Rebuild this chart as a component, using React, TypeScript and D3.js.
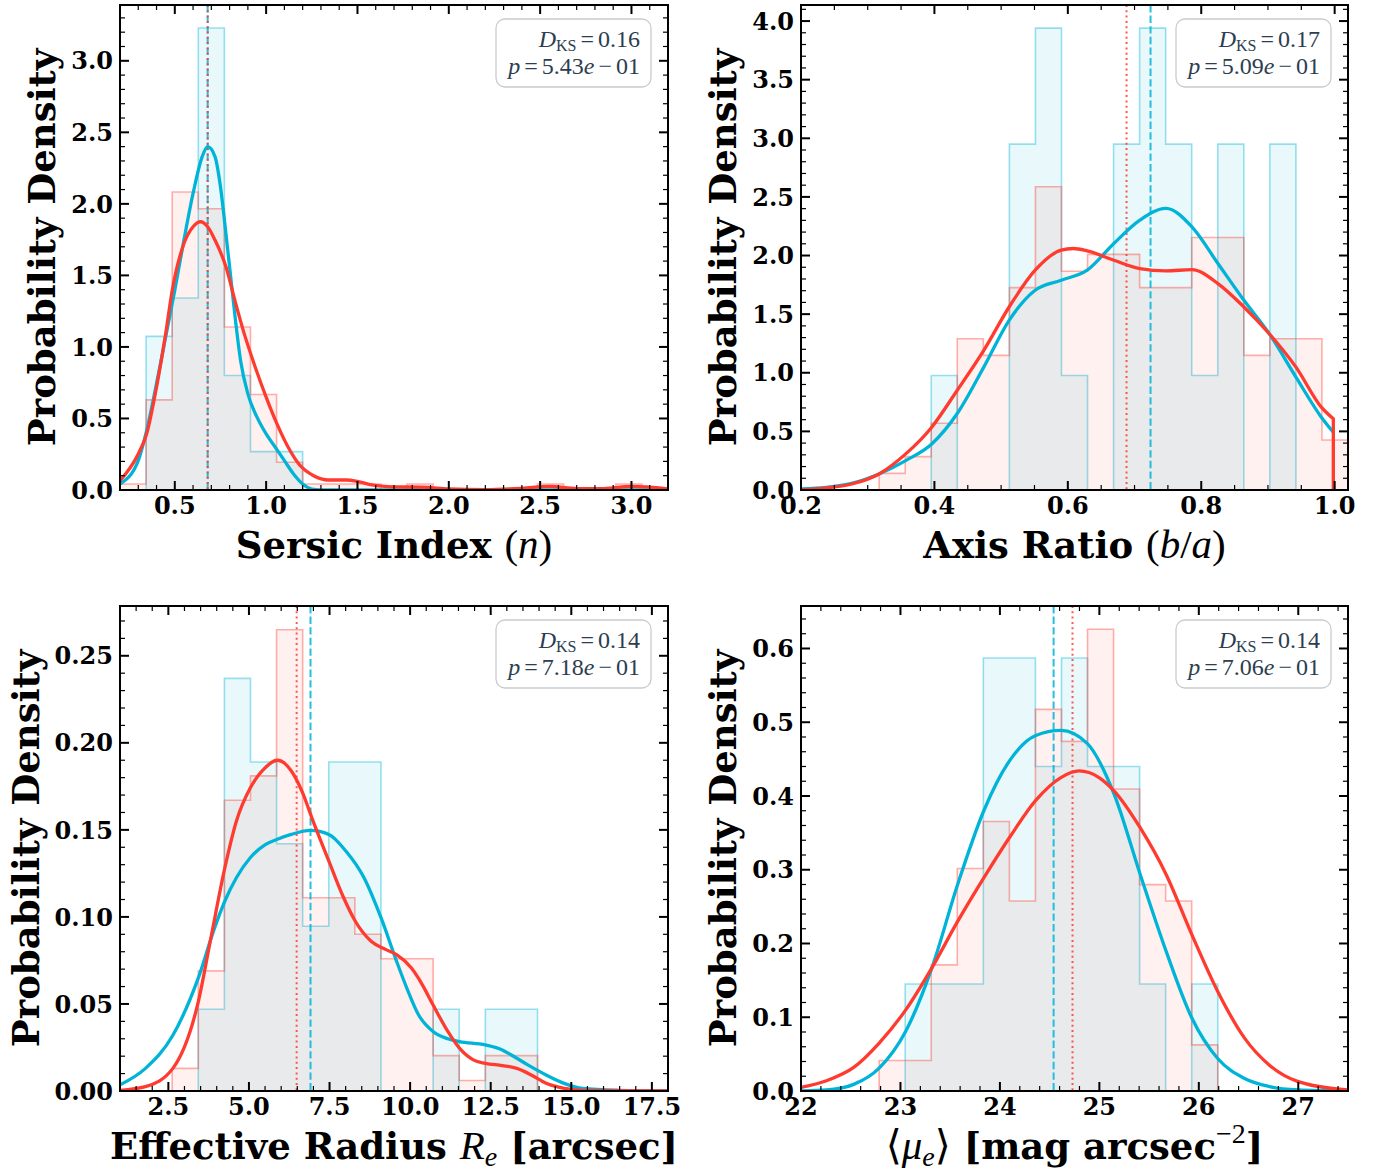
import React from 'react';
import * as d3 from 'd3';

// ---------------- data ----------------
// Panel 1: Sersic index
const sersicRange = [0.2, 3.2];
const sersicYMax = 3.39;
const sersicCyanHist = [0, 1.074, 1.342, 3.229, 0.8, 0.268, 0.268, 0, 0, 0, 0, 0, 0, 0, 0, 0, 0, 0, 0, 0, 0];
const sersicRedHist = [0.042, 0.63, 2.083, 1.966, 1.139, 0.668, 0.194, 0.042, 0.042, 0.042, 0, 0.042, 0, 0, 0, 0, 0.042, 0, 0, 0.042, 0];
const sersicCyanKdeX = [0.2, 0.3, 0.346, 0.4, 0.45, 0.5, 0.55, 0.6, 0.65, 0.68, 0.72, 0.75, 0.78, 0.8, 0.83, 0.86, 0.9, 0.95, 1.0, 1.05, 1.1, 1.15, 1.2, 1.25, 1.3, 1.4, 3.2];
const sersicCyanKdeY = [0.042, 0.205, 0.416, 0.743, 1.069, 1.396, 1.747, 2.073, 2.33, 2.40, 2.33, 2.12, 1.79, 1.56, 1.21, 0.906, 0.672, 0.509, 0.392, 0.299, 0.205, 0.112, 0.042, 0.007, 0.001, 0, 0];
const sersicRedKdeX = [0.2, 0.3, 0.346, 0.4, 0.45, 0.486, 0.55, 0.6, 0.64, 0.68, 0.72, 0.78, 0.83, 0.88, 0.94, 1.0, 1.06, 1.12, 1.18, 1.26, 1.34, 1.44, 1.5, 1.58, 1.7, 1.85, 2.0, 2.2, 2.4, 2.55, 2.7, 2.85, 3.0, 3.2];
const sersicRedKdeY = [0.065, 0.252, 0.392, 0.719, 1.093, 1.396, 1.723, 1.84, 1.875, 1.84, 1.747, 1.56, 1.32, 1.093, 0.86, 0.649, 0.46, 0.30, 0.18, 0.10, 0.07, 0.07, 0.06, 0.035, 0.022, 0.02, 0.008, 0.003, 0.012, 0.025, 0.01, 0.01, 0.025, 0.008];
const sersicMedians = [0.68, 0.68]; // [cyan, red]
const sersicXTicks = [0.5, 1.0, 1.5, 2.0, 2.5, 3.0];
const sersicYTicks = [0, 0.5, 1.0, 1.5, 2.0, 2.5, 3.0];
const sersicKS = ['0.16', '5.43'];

// Panel 2: axis ratio
const axisRange = [0.2, 1.02];
const axisYMax = 4.137;
const axisCyanHist = [0, 0, 0, 0, 0, 0.977, 0, 0, 2.95, 3.94, 0.977, 0, 2.95, 3.94, 2.95, 0.977, 2.95, 0, 2.95, 0, 0];
const axisRedHist = [0, 0, 0, 0.142, 0.285, 0.57, 1.29, 1.148, 1.726, 2.587, 1.866, 2.01, 2.01, 1.726, 1.726, 2.154, 2.154, 1.148, 1.29, 1.29, 0.427];
const axisCyanKdeX = [0.2, 0.238, 0.276, 0.317, 0.357, 0.396, 0.434, 0.474, 0.512, 0.551, 0.59, 0.629, 0.669, 0.708, 0.747, 0.786, 0.825, 0.864, 0.902, 0.942, 0.98, 0.998];
const axisCyanKdeY = [0.009, 0.023, 0.057, 0.137, 0.251, 0.393, 0.65, 1.048, 1.447, 1.704, 1.789, 1.875, 2.103, 2.302, 2.402, 2.245, 1.932, 1.618, 1.333, 0.963, 0.621, 0.493];
const axisRedKdeX = [0.2, 0.238, 0.276, 0.317, 0.357, 0.396, 0.434, 0.474, 0.512, 0.551, 0.59, 0.608, 0.629, 0.669, 0.708, 0.747, 0.786, 0.825, 0.864, 0.902, 0.942, 0.98, 0.998, 0.998];
const axisRedKdeY = [0.001, 0.017, 0.051, 0.137, 0.308, 0.536, 0.849, 1.191, 1.561, 1.875, 2.046, 2.06, 2.04, 1.96, 1.889, 1.869, 1.88, 1.761, 1.561, 1.333, 1.048, 0.707, 0.607, 0];
const axisMedians = [0.724, 0.688];
const axisXTicks = [0.2, 0.4, 0.6, 0.8, 1.0];
const axisYTicks = [0, 0.5, 1.0, 1.5, 2.0, 2.5, 3.0, 3.5, 4.0];
const axisKS = ['0.17', '5.09'];

// Panel 3: effective radius
const reRange = [1.0, 18.0];
const reYMax = 0.2786;
const reCyanHist = [0, 0, 0, 0.047, 0.237, 0.189, 0.142, 0.0946, 0.189, 0.189, 0, 0, 0.047, 0, 0.047, 0.047, 0, 0, 0, 0, 0];
const reRedHist = [0, 0, 0.013, 0.069, 0.167, 0.181, 0.265, 0.111, 0.111, 0.09, 0.076, 0.076, 0.0203, 0.006, 0.0203, 0.0203, 0, 0, 0, 0, 0];
const reCyanKdeX = [1.0, 1.79, 2.64, 3.43, 3.94, 4.25, 4.61, 5.04, 5.52, 5.86, 6.31, 6.91, 7.48, 8.0, 8.57, 9.1, 9.58, 9.9, 10.26, 10.71, 11.17, 11.53, 12.33, 12.86, 13.14, 13.65, 14.22, 14.78, 15.35, 16.48, 18.0];
const reCyanKdeY = [0.0035, 0.013, 0.032, 0.065, 0.094, 0.109, 0.1225, 0.134, 0.1417, 0.1445, 0.1474, 0.1497, 0.1474, 0.138, 0.1225, 0.0994, 0.0745, 0.059, 0.0438, 0.0342, 0.03, 0.0284, 0.0265, 0.0236, 0.0207, 0.015, 0.0092, 0.0044, 0.0015, 0.0004, 0];
const reRedKdeX = [1.0, 1.79, 2.64, 3.43, 3.82, 4.25, 4.61, 5.04, 5.52, 5.88, 6.31, 6.65, 6.99, 7.48, 7.89, 8.3, 8.79, 9.25, 9.58, 10.04, 10.38, 10.71, 11.17, 11.53, 11.96, 12.33, 12.86, 13.31, 13.76, 14.22, 14.78, 15.35, 18.0];
const reRedKdeY = [0.0004, 0.0025, 0.013, 0.0514, 0.0879, 0.128, 0.155, 0.174, 0.186, 0.19, 0.184, 0.172, 0.155, 0.132, 0.113, 0.0975, 0.086, 0.0812, 0.0783, 0.0706, 0.061, 0.0495, 0.0342, 0.0246, 0.0179, 0.0159, 0.0146, 0.013, 0.0092, 0.0044, 0.0015, 0.0004, 0];
const reMedians = [6.91, 6.48];
const reXTicks = [2.5, 5.0, 7.5, 10.0, 12.5, 15.0, 17.5];
const reYTicks = [0, 0.05, 0.10, 0.15, 0.20, 0.25];
const reKS = ['0.14', '7.18'];

// Panel 4: mean surface brightness
const muRange = [22.0, 27.5];
const muYMax = 0.6576;
const muCyanHist = [0, 0, 0, 0, 0.145, 0.145, 0.145, 0.587, 0.587, 0.44, 0.587, 0.44, 0.44, 0.145, 0, 0.145, 0, 0, 0, 0, 0];
const muRedHist = [0, 0, 0, 0.0413, 0.0413, 0.171, 0.3016, 0.3655, 0.2576, 0.5175, 0.474, 0.626, 0.4095, 0.2798, 0.2576, 0.0626, 0, 0, 0, 0, 0];
const muCyanKdeX = [22.0, 22.256, 22.53, 22.786, 23.053, 23.316, 23.575, 23.838, 24.098, 24.36, 24.613, 24.88, 25.147, 25.41, 25.67, 25.93, 26.19, 26.46, 26.71, 27.0, 27.5];
const muCyanKdeY = [0.0003, 0.0014, 0.009, 0.031, 0.081, 0.167, 0.28, 0.38, 0.448, 0.482, 0.489, 0.471, 0.403, 0.294, 0.19, 0.099, 0.044, 0.017, 0.006, 0.0014, 0];
const muRedKdeX = [22.0, 22.256, 22.53, 22.786, 23.053, 23.316, 23.575, 23.838, 24.098, 24.36, 24.613, 24.796, 24.997, 25.147, 25.41, 25.67, 25.93, 26.19, 26.46, 26.71, 27.0, 27.5];
const muRedKdeY = [0.005, 0.014, 0.032, 0.065, 0.11, 0.167, 0.23, 0.289, 0.344, 0.394, 0.425, 0.434, 0.425, 0.407, 0.357, 0.294, 0.212, 0.135, 0.0717, 0.035, 0.0127, 0.0014];
const muMedians = [24.54, 24.73];
const muXTicks = [22, 23, 24, 25, 26, 27];
const muYTicks = [0, 0.1, 0.2, 0.3, 0.4, 0.5, 0.6];
const muKS = ['0.14', '7.06'];

// ---------------- style ----------------
const SERIF = "'DejaVu Serif', serif";
const MATH = "'Liberation Serif', 'DejaVu Serif', serif";
const CYAN = '#00b4d8';
const RED = '#ff3b30';
const BOXTEXT = '#2c3e50';
const TICKSIZE = 24;
const LABELSIZE = 37;
const MATHSIZE = 41;
const SUBSIZE = 28;

type Cfg = {
  id: string;
  range: number[];
  yMax: number;
  cyanHist: number[];
  redHist: number[];
  cyanKde: [number[], number[]];
  redKde: [number[], number[]];
  medians: number[];
  xTicks: number[];
  yTicks: number[];
  xFmt: string;
  yFmt: string;
  xMinor: number;
  yMinor: number;
  ks: string[];
  xlabel: React.ReactNode;
};

const mathProps = { fontFamily: MATH, fontWeight: 'normal' as const, fontSize: MATHSIZE };

const panels: Cfg[] = [
  {
    id: 'p1', range: sersicRange, yMax: sersicYMax, cyanHist: sersicCyanHist, redHist: sersicRedHist,
    cyanKde: [sersicCyanKdeX, sersicCyanKdeY], redKde: [sersicRedKdeX, sersicRedKdeY], medians: sersicMedians,
    xTicks: sersicXTicks, yTicks: sersicYTicks, xFmt: '.1f', yFmt: '.1f', xMinor: 0.1, yMinor: 0.1, ks: sersicKS,
    xlabel: (<>Sersic Index <tspan {...mathProps}>(<tspan fontStyle="italic">n</tspan>)</tspan></>),
  },
  {
    id: 'p2', range: axisRange, yMax: axisYMax, cyanHist: axisCyanHist, redHist: axisRedHist,
    cyanKde: [axisCyanKdeX, axisCyanKdeY], redKde: [axisRedKdeX, axisRedKdeY], medians: axisMedians,
    xTicks: axisXTicks, yTicks: axisYTicks, xFmt: '.1f', yFmt: '.1f', xMinor: 0.05, yMinor: 0.1, ks: axisKS,
    xlabel: (<>Axis Ratio <tspan {...mathProps}>(<tspan fontStyle="italic">b</tspan>/<tspan fontStyle="italic">a</tspan>)</tspan></>),
  },
  {
    id: 'p3', range: reRange, yMax: reYMax, cyanHist: reCyanHist, redHist: reRedHist,
    cyanKde: [reCyanKdeX, reCyanKdeY], redKde: [reRedKdeX, reRedKdeY], medians: reMedians,
    xTicks: reXTicks, yTicks: reYTicks, xFmt: '.1f', yFmt: '.2f', xMinor: 0.5, yMinor: 0.01, ks: reKS,
    xlabel: (<>Effective Radius <tspan {...mathProps} fontStyle="italic">R</tspan><tspan fontFamily={MATH} fontWeight="normal" fontStyle="italic" fontSize={SUBSIZE} dy={7}>e</tspan><tspan dy={-7}> [arcsec]</tspan></>),
  },
  {
    id: 'p4', range: muRange, yMax: muYMax, cyanHist: muCyanHist, redHist: muRedHist,
    cyanKde: [muCyanKdeX, muCyanKdeY], redKde: [muRedKdeX, muRedKdeY], medians: muMedians,
    xTicks: muXTicks, yTicks: muYTicks, xFmt: 'd', yFmt: '.1f', xMinor: 0.2, yMinor: 0.02, ks: muKS,
    xlabel: (<><tspan {...mathProps}>⟨<tspan fontStyle="italic">μ</tspan></tspan><tspan fontFamily={MATH} fontWeight="normal" fontStyle="italic" fontSize={SUBSIZE} dy={7}>e</tspan><tspan {...mathProps} dy={-7}>⟩</tspan><tspan> [mag arcsec</tspan><tspan fontFamily={MATH} fontWeight="normal" fontSize={SUBSIZE} dy={-16}>−2</tspan><tspan dy={16}>]</tspan></>),
  },
];

const GEOM = [
  { x0: 120, x1: 668, y0: 5, y1: 490 },
  { x0: 801, x1: 1348, y0: 5, y1: 490 },
  { x0: 120, x1: 668, y0: 606, y1: 1091 },
  { x0: 801, x1: 1348, y0: 606, y1: 1091 },
];

function minorValues(d0: number, d1: number, step: number, majors: number[]) {
  const out: number[] = [];
  const a = Math.ceil(d0 / step - 1e-9);
  const b = Math.floor(d1 / step + 1e-9);
  for (let i = a; i <= b; i++) {
    const v = i * step;
    if (!majors.some((m) => Math.abs(m - v) < step * 1e-3)) out.push(v);
  }
  return out;
}

// approximate width of a bold DejaVu Serif numeric label
function labelWidth(s: string, size: number) {
  let w = 0;
  for (const ch of s) w += ch === '.' ? 0.38 : 0.696;
  return w * size;
}

function Panel({ cfg, g }: { cfg: Cfg; g: { x0: number; x1: number; y0: number; y1: number } }) {
  const { x0, x1, y0, y1 } = g;
  const xs = d3.scaleLinear().domain(cfg.range).range([x0, x1]);
  const ys = d3.scaleLinear().domain([0, cfg.yMax]).range([y1, y0]);
  const nb = cfg.cyanHist.length;
  const edges = d3.range(nb + 1).map((i) => cfg.range[0] + (i * (cfg.range[1] - cfg.range[0])) / nb);

  const stepPath = (h: number[]) => {
    let p = `M${xs(edges[0])},${ys(0)}`;
    h.forEach((v, i) => {
      p += `L${xs(edges[i])},${ys(v)}L${xs(edges[i + 1])},${ys(v)}`;
    });
    p += `L${xs(edges[nb])},${ys(0)}Z`;
    return p;
  };

  const kdePath = (k: [number[], number[]]) => {
    const pts = k[0].map((x, i) => [x, k[1][i]] as [number, number]);
    let tail: [number, number] | null = null;
    if (pts.length > 1 && pts[pts.length - 1][0] === pts[pts.length - 2][0]) {
      tail = pts.pop() as [number, number];
    }
    const line = d3.line<[number, number]>().x((d) => xs(d[0])).y((d) => ys(d[1])).curve(d3.curveMonotoneX);
    let p = line(pts) || '';
    if (tail) p += `L${xs(tail[0])},${ys(tail[1])}`;
    return p;
  };

  const xFmt = d3.format(cfg.xFmt);
  const yFmt = d3.format(cfg.yFmt);
  const xMinors = minorValues(cfg.range[0], cfg.range[1], cfg.xMinor, cfg.xTicks);
  const yMinors = minorValues(0, cfg.yMax, cfg.yMinor, cfg.yTicks);
  const MAJ = 9;
  const MIN = 5;
  const cx = (x0 + x1) / 2;
  const cy = (y0 + y1) / 2;
  const clipId = `clip-${cfg.id}`;
  const boxR = x1 - 17;
  const boxL = x1 - 172;
  const maxW = d3.max(cfg.yTicks.map((v) => labelWidth(yFmt(v), TICKSIZE))) || 0;
  const ylabX = x0 - 7 - maxW - 15;

  return (
    <g>
      <defs>
        <clipPath id={clipId}>
          <rect x={x0} y={y0} width={x1 - x0} height={y1 - y0} />
        </clipPath>
      </defs>
      <g clipPath={`url(#${clipId})`}>
        <path d={stepPath(cfg.cyanHist)} fill={CYAN} fillOpacity={0.09} stroke={CYAN} strokeOpacity={0.4} strokeWidth={1.6} />
        <path d={stepPath(cfg.redHist)} fill={RED} fillOpacity={0.07} stroke={RED} strokeOpacity={0.4} strokeWidth={1.6} />
        <line x1={xs(cfg.medians[0])} x2={xs(cfg.medians[0])} y1={y0} y2={y1} stroke={CYAN} strokeOpacity={0.85} strokeWidth={2} strokeDasharray="7.4,3.2" />
        <line x1={xs(cfg.medians[1])} x2={xs(cfg.medians[1])} y1={y0} y2={y1} stroke={RED} strokeOpacity={0.85} strokeWidth={2} strokeDasharray="2,3.3" />
        <path d={kdePath(cfg.cyanKde)} fill="none" stroke={CYAN} strokeWidth={3.3} strokeLinejoin="round" />
        <path d={kdePath(cfg.redKde)} fill="none" stroke={RED} strokeWidth={3.3} strokeLinejoin="round" />
      </g>
      {/* stats box */}
      <rect x={boxL} y={y0 + 14} width={boxR - boxL} height={68} rx={9} ry={9} fill="#ffffff" fillOpacity={0.85} stroke="#c8ccd0" strokeWidth={1.3} />
      <text x={x1 - 28} y={y0 + 42} textAnchor="end" fontFamily={MATH} fontSize={24} fill={BOXTEXT}>
        <tspan fontStyle="italic">D</tspan>
        <tspan fontSize={16} dy={4}>KS</tspan>
        <tspan dy={-4} dx={4}>=</tspan>
        <tspan dx={4}>{cfg.ks[0]}</tspan>
      </text>
      <text x={x1 - 28} y={y0 + 69} textAnchor="end" fontFamily={MATH} fontSize={24} fill={BOXTEXT}>
        <tspan fontStyle="italic">p</tspan>
        <tspan dx={4}>=</tspan>
        <tspan dx={4}>{cfg.ks[1]}</tspan>
        <tspan fontStyle="italic">e</tspan>
        <tspan dx={4}>−</tspan>
        <tspan dx={4}>01</tspan>
      </text>
      {/* ticks */}
      <g stroke="#000">
        {cfg.xTicks.map((v) => (
          <g key={`xt${v}`}>
            <line x1={xs(v)} x2={xs(v)} y1={y1} y2={y1 - MAJ} strokeWidth={2} />
            <line x1={xs(v)} x2={xs(v)} y1={y0} y2={y0 + MAJ} strokeWidth={2} />
          </g>
        ))}
        {xMinors.map((v) => (
          <g key={`xm${v}`}>
            <line x1={xs(v)} x2={xs(v)} y1={y1} y2={y1 - MIN} strokeWidth={1.2} />
            <line x1={xs(v)} x2={xs(v)} y1={y0} y2={y0 + MIN} strokeWidth={1.2} />
          </g>
        ))}
        {cfg.yTicks.map((v) => (
          <g key={`yt${v}`}>
            <line x1={x0} x2={x0 + MAJ} y1={ys(v)} y2={ys(v)} strokeWidth={2} />
            <line x1={x1} x2={x1 - MAJ} y1={ys(v)} y2={ys(v)} strokeWidth={2} />
          </g>
        ))}
        {yMinors.map((v) => (
          <g key={`ym${v}`}>
            <line x1={x0} x2={x0 + MIN} y1={ys(v)} y2={ys(v)} strokeWidth={1.2} />
            <line x1={x1} x2={x1 - MIN} y1={ys(v)} y2={ys(v)} strokeWidth={1.2} />
          </g>
        ))}
      </g>
      <rect x={x0} y={y0} width={x1 - x0} height={y1 - y0} fill="none" stroke="#000" strokeWidth={2} />
      {/* tick labels */}
      <g fontFamily={SERIF} fontWeight="bold" fontSize={TICKSIZE} fill="#000">
        {cfg.xTicks.map((v) => (
          <text key={`xl${v}`} x={xs(v)} y={y1 + 24} textAnchor="middle">{xFmt(v)}</text>
        ))}
        {cfg.yTicks.map((v) => (
          <text key={`yl${v}`} x={x0 - 7} y={ys(v)} dy="0.36em" textAnchor="end">{yFmt(v)}</text>
        ))}
      </g>
      {/* axis labels */}
      <text x={cx} y={y1 + 68} textAnchor="middle" fontFamily={SERIF} fontWeight="bold" fontSize={LABELSIZE} fill="#000">
        {cfg.xlabel}
      </text>
      <text transform={`translate(${ylabX},${cy}) rotate(-90)`} textAnchor="middle" fontFamily={SERIF} fontWeight="bold" fontSize={LABELSIZE} fill="#000">
        Probability Density
      </text>
    </g>
  );
}

export default function App() {
  return (
    <svg width={1379} height={1175} viewBox="0 0 1379 1175" style={{ display: 'block', position: 'absolute', left: 0, top: 0, background: '#fff' }}>
      <rect x={0} y={0} width={1379} height={1175} fill="#fff" />
      {panels.map((p, i) => (
        <Panel key={p.id} cfg={p} g={GEOM[i]} />
      ))}
    </svg>
  );
}
